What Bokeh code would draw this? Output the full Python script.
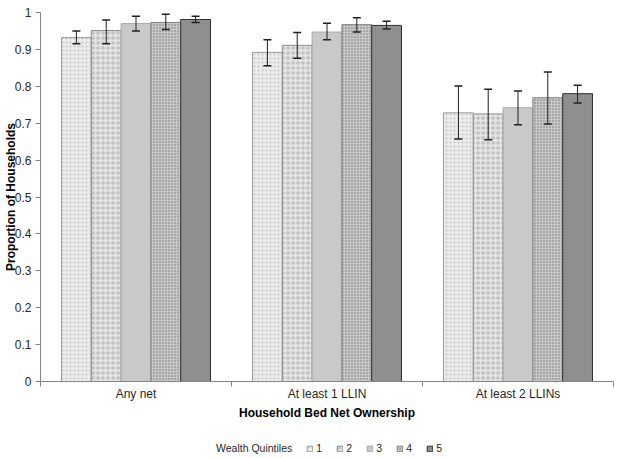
from bokeh.plotting import figure
from bokeh.layouts import column
from bokeh.models import (Range1d, FixedTicker, Whisker, TeeHead, ColumnDataSource,
                          Legend, LegendItem)
from bokeh.transform import dodge
from bokeh.embed import file_html
from bokeh.resources import INLINE

categories = ["Any net", "At least 1 LLIN", "At least 2 LLINs"]
quintiles = ["1", "2", "3", "4", "5"]
legend_title = "Wealth Quintiles"

q1 = [0.932, 0.892, 0.728]
q2 = [0.951, 0.911, 0.725]
q3 = [0.970, 0.947, 0.742]
q4 = [0.973, 0.967, 0.769]
q5 = [0.981, 0.965, 0.780]

q1_lo = [0.915, 0.856, 0.657]
q1_hi = [0.950, 0.926, 0.801]
q2_lo = [0.915, 0.876, 0.655]
q2_hi = [0.980, 0.946, 0.792]
q3_lo = [0.950, 0.926, 0.696]
q3_hi = [0.990, 0.971, 0.787]
q4_lo = [0.954, 0.947, 0.698]
q4_hi = [0.995, 0.986, 0.839]
q5_lo = [0.973, 0.955, 0.755]
q5_hi = [0.990, 0.976, 0.803]

values = [q1, q2, q3, q4, q5]
lows = [q1_lo, q2_lo, q3_lo, q4_lo, q5_lo]
highs = [q1_hi, q2_hi, q3_hi, q4_hi, q5_hi]

FONT = "Liberation Sans"
AXIS_GRAY = "#868686"
TEXT = "#262626"

styles = [
    dict(fill_color="#ececec", hatch_pattern="dot", hatch_color="#c4c4c4", hatch_scale=4, line_color="#9a9a9a"),
    dict(fill_color="#e4e4e4", hatch_pattern="ring", hatch_color="#b4b4b4", hatch_scale=5, line_color="#8a8a8a"),
    dict(fill_color="#c9c9c9", line_color="#a8a8a8"),
    dict(fill_color="#a6a6a6", hatch_pattern="cross", hatch_color="#c8c8c8", hatch_scale=3, line_color="#808080"),
    dict(fill_color="#8f8f8f", line_color="#303030"),
]

centers = [i + 0.5 for i in range(len(categories))]

p = figure(width=625, height=434, output_backend="svg", toolbar_location=None,
           x_range=Range1d(0, 3), y_range=Range1d(0, 1),
           min_border_top=12, min_border_right=12, min_border_left=0,
           min_border_bottom=53)
p.outline_line_color = None
p.xgrid.grid_line_color = None
p.ygrid.grid_line_color = None

bar_w = 0.156
offsets = [-2 * bar_w, -bar_w, 0.0, bar_w, 2 * bar_w]

sources = []
for i, q in enumerate(quintiles):
    src = ColumnDataSource(dict(x=centers, top=values[i], lo=lows[i], hi=highs[i]))
    sources.append(src)
    p.vbar(x=dodge("x", offsets[i], range=p.x_range), top="top", bottom=0,
           width=bar_w, source=src, line_width=1, **styles[i])
    w = Whisker(base=dodge("x", offsets[i], range=p.x_range), upper="hi", lower="lo",
                source=src, line_color="#202020", line_width=1, level="overlay",
                upper_head=TeeHead(size=8, line_color="#202020", line_width=1.5),
                lower_head=TeeHead(size=8, line_color="#202020", line_width=1.5))
    p.add_layout(w)

# y axis
p.yaxis.ticker = FixedTicker(ticks=[i / 10 for i in range(11)])
p.yaxis.major_label_overrides = {i / 10: ("0" if i == 0 else ("1" if i == 10 else f"{i/10:.1f}")) for i in range(11)}
p.yaxis.axis_label = "Proportion of Households"
p.yaxis.axis_label_text_font = FONT
p.yaxis.axis_label_text_font_style = "bold"
p.yaxis.axis_label_text_font_size = "12px"
p.yaxis.axis_label_text_color = "#000000"
p.yaxis.axis_label_standoff = -6
p.yaxis.major_label_text_font = FONT
p.yaxis.major_label_text_font_size = "12px"
p.yaxis.major_label_text_color = TEXT
p.yaxis.major_tick_out = 5
p.yaxis.major_tick_in = 0
p.yaxis.minor_tick_line_color = None
p.yaxis.axis_line_color = AXIS_GRAY
p.yaxis.major_tick_line_color = AXIS_GRAY
p.yaxis.major_label_standoff = 4

# x axis
p.xaxis.ticker = FixedTicker(ticks=centers, minor_ticks=[0, 1, 2, 3])
p.xaxis.major_label_overrides = {c: lab for c, lab in zip(centers, categories)}
p.xaxis.axis_label = "Household Bed Net Ownership"
p.xaxis.axis_label_text_font = FONT
p.xaxis.axis_label_text_font_style = "bold"
p.xaxis.axis_label_text_font_size = "12px"
p.xaxis.axis_label_text_color = "#000000"
p.xaxis.axis_label_standoff = 2
p.xaxis.major_label_text_font = FONT
p.xaxis.major_label_text_font_size = "12px"
p.xaxis.major_label_text_color = TEXT
p.xaxis.major_tick_line_color = None
p.xaxis.major_tick_out = 0
p.xaxis.major_tick_in = 0
p.xaxis.major_label_standoff = 0
p.xaxis.minor_tick_out = 5
p.xaxis.minor_tick_in = 0
p.xaxis.minor_tick_line_color = AXIS_GRAY
p.xaxis.axis_line_color = AXIS_GRAY

# legend strip below the chart (its swatch renderers sit outside its ranges)
lg = figure(width=625, height=24, output_backend="svg", toolbar_location=None,
            x_range=Range1d(10, 11), y_range=Range1d(10, 11),
            min_border=0, x_axis_type=None, y_axis_type=None)
lg.outline_line_color = None
lg.xgrid.grid_line_color = None
lg.ygrid.grid_line_color = None

items = []
dummy = lg.scatter(x="x", y="top", source=sources[0], size=1, alpha=0)
items.append(LegendItem(label=legend_title, renderers=[dummy]))
for i, q in enumerate(quintiles):
    r = lg.vbar(x="x", top="top", bottom=0, width=bar_w,
                source=sources[i], line_width=1, **styles[i])
    items.append(LegendItem(label=q, renderers=[r]))

legend = Legend(items=items, orientation="horizontal", location=(166, 3),
                glyph_width=7, glyph_height=7, label_standoff=3, spacing=14,
                label_width=6, label_height=14,
                label_text_font=FONT, label_text_font_size="10.5px",
                label_text_color=TEXT, border_line_color=None,
                background_fill_alpha=0, padding=2, margin=0)
lg.add_layout(legend)

layout = column(p, lg, spacing=0)
open("out.html", "w").write(file_html(layout, INLINE))
